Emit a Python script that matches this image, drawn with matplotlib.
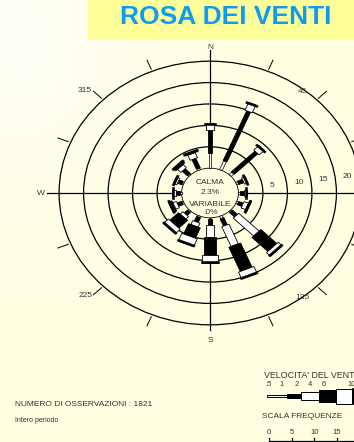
import numpy as np
import matplotlib
matplotlib.use("Agg")
import matplotlib.pyplot as plt
from matplotlib.patches import Polygon, Circle, Rectangle

plt.rcParams['font.family'] = ['Liberation Sans', 'DejaVu Sans']

# ── data ──────────────────────────────────────────────────────────────────────
directions = np.arange(0, 360, 22.5)          # N, NNE, ... NNW (deg)
# frequency (%) per speed class: .5-1, 1-2, 2-4, 4-6, 6-10 m/s
freq = np.array([
    [3.5, 5.4, 1.7, 0.0, 0.0],   # N
    [2.2, 12.6, 2.0, 0.0, 0.0],  # NNE
    [0.8, 6.8, 1.5, 0.0, 0.0],   # NE
    [0.4, 1.1, 0.8, 0.0, 0.0],   # ENE
    [0.3, 0.8, 0.7, 0.0, 0.0],   # E
    [0.4, 1.0, 1.0, 0.4, 0.0],   # ESE
    [0.3, 1.4, 5.9, 4.6, 1.2],   # SE
    [0.6, 1.8, 5.0, 6.1, 1.8],   # SSE
    [0.2, 1.5, 2.8, 4.2, 1.9],   # S
    [0.3, 1.2, 1.0, 2.6, 2.0],   # SSW
    [0.3, 0.9, 0.8, 2.5, 1.5],   # SW
    [0.3, 1.0, 0.8, 0.8, 0.0],   # WSW
    [0.3, 0.9, 0.8, 0.0, 0.0],   # W
    [0.3, 0.9, 0.8, 0.0, 0.0],   # WNW
    [0.3, 1.5, 1.0, 0.8, 0.0],   # NW
    [0.4, 2.4, 1.3, 0.5, 0.0],   # NNW
])
speed_labels = ['.5', '1', '2', '4', '6', '10']
ring_vals = [5, 10, 15, 20, 25]
ring_labels = ['5', '10', '15', '20']
scale_vals = [0, 5, 10, 15]
calm_pct = 2.3
variable_pct = 0.0
n_obs = 1821

# ── style ─────────────────────────────────────────────────────────────────────
BG = '#fffee2'
TXT = '#333333'
R0 = 5.8                                   # radius of the calm circle (%)
seg_w = [0.6, 0.85, 1.6, 2.6, 3.4]         # bar width per speed class
cap_w = [1.6, 2.0, 2.6, 3.2, 3.8]          # end cap width
seg_fill = ['white', 'black', 'white', 'black', 'white']
W, H = 354, 442
CX, CY = 210, 193                          # rose centre, px
SX, SY = 4.9, 4.28                         # px per % unit (x, y)

fig = plt.figure(figsize=(W / 100, H / 100), dpi=100)
fig.patch.set_facecolor(BG)

# soft light patch in the upper left of the page
axbg = fig.add_axes([0, 0, 1, 1], zorder=0)
gx, gy = np.meshgrid(np.linspace(0, 1, 120), np.linspace(0, 1, 150))
glow = np.exp(-((gx - 0.05) ** 2 + (gy - 0.08) ** 2) / 0.15)
img = np.ones((150, 120, 3))
img[..., 1] = 0.997
img[..., 2] = 0.88 + 0.08 * glow
axbg.imshow(img, aspect='auto', extent=[0, 1, 1, 0])
axbg.set_xlim(0, 1); axbg.set_ylim(1, 0)
axbg.axis('off')

# title band
fig.patches.append(Rectangle((88 / W, 1 - 40 / H), (W - 88) / W, 40 / H,
                             transform=fig.transFigure, facecolor='#ffff99',
                             edgecolor='none', zorder=1))
fig.text(226 / W, 1 - 17 / H, 'ROSA DEI VENTI', ha='center', va='center',
         fontsize=19, fontweight='bold', color='#0f9bf2', zorder=2)

# ── rose axes (1 data unit = 1 %) ─────────────────────────────────────────────
ax = fig.add_axes([0, 0, 1, 1], zorder=2)
ax.set_xlim(-CX / SX, (W - CX) / SX)
ax.set_ylim(-(H - CY) / SY, CY / SY)
ax.axis('off')
ax.patch.set_alpha(0)

for rv in ring_vals:
    ax.add_patch(Circle((0, 0), R0 + rv, fill=False, lw=0.9, ec='black', zorder=2))
ax.add_patch(Circle((0, 0), R0, fill=False, lw=0.6, ec='black', zorder=2))


def ray(b, r):
    t = np.radians(b)
    return np.array([r * np.sin(t), r * np.cos(t)])


def perp(b):
    t = np.radians(b)
    return np.array([np.cos(t), -np.sin(t)])


# axis lines N, S, W, E
for b, r1 in [(0, 33.3), (180, 32.0), (270, 33.3), (90, 40)]:
    p0, p1 = ray(b, R0), ray(b, r1)
    ax.plot([p0[0], p1[0]], [p0[1], p1[1]], color='black', lw=0.9, zorder=2)

# short ticks on the other 22.5 deg directions
for b in directions:
    if b % 90 == 0:
        continue
    p0, p1 = ray(b, 31.3), ray(b, 33.6)
    ax.plot([p0[0], p1[0]], [p0[1], p1[1]], color='black', lw=0.7, zorder=2)

ax.text(*ray(0, 33.9), 'N', ha='center', va='center', fontsize=6, color=TXT)
ax.text(*ray(180, 34.5), 'S', ha='center', va='center', fontsize=6, color=TXT)
ax.text(*ray(270, 34.5), 'W', ha='center', va='center', fontsize=6, color=TXT)
for b in [225, 315]:
    p = ray(b, 34.0)
    ax.text(p[0], p[1], str(b), ha='right', va='center', fontsize=6, color=TXT)
# 45 and 135 sit left of their ticks, over the outer ring
ax.text(19.9, 23.6, '45', ha='right', va='center', fontsize=6, color=TXT)
ax.text(20.4, -24.3, '135', ha='right', va='center', fontsize=6, color=TXT)

for rv, lab in zip(ring_vals, ring_labels):
    p = ray(82, R0 + rv + 1.5)
    ax.text(p[0], p[1], lab, ha='left', va='center', fontsize=6, color=TXT)

# stacked bars: one polygon per speed class, widening outwards
for b, row in zip(directions, freq):
    d, n = ray(b, 1.0), perp(b)
    r = R0
    last = 0
    for k, f in enumerate(row):
        if f <= 0:
            continue
        h = seg_w[k] / 2
        pts = [r * d + h * n, (r + f) * d + h * n, (r + f) * d - h * n, r * d - h * n]
        ax.add_patch(Polygon(pts, closed=True, fc=seg_fill[k], ec='black',
                             lw=0.6 if k else 0.5, zorder=3 + k * 0.01))
        r += f
        last = k
    h = cap_w[last] / 2
    pts = [(r - 0.45) * d + h * n, r * d + h * n, r * d - h * n, (r - 0.45) * d - h * n]
    ax.add_patch(Polygon(pts, closed=True, fc='black', ec='black', lw=0.4, zorder=4))

# calm / variable text inside the centre
ax.text(0, (CY - 182) / SY, 'CALMA', ha='center', va='center', fontsize=6, color=TXT, zorder=5)
ax.text(0, (CY - 192) / SY, f'{calm_pct:.1f}%', ha='center', va='center', fontsize=6, color=TXT, zorder=5)
ax.text(0, (CY - 204) / SY, 'VARIABILE', ha='center', va='center', fontsize=6, color=TXT, zorder=5)
ax.text(0, (CY - 213) / SY, f'{variable_pct:.1f}%'.lstrip('0'), ha='center', va='center',
        fontsize=6, color=TXT, zorder=5)

# ── speed legend ──────────────────────────────────────────────────────────────
fig.text(264 / W, 1 - 375 / H, "VELOCITA' DEL VENTO", ha='left', va='center',
         fontsize=6.4, color=TXT)
axl = fig.add_axes([267 / W, 1 - 404 / H, 85 / W, 16 / H], zorder=3)
axl.set_xlim(267, 352); axl.set_ylim(-8, 8)
axl.axis('off'); axl.patch.set_alpha(0)
leg_edges = [267, 287, 301, 319, 336, 352]
leg_lab_x = [268, 282, 297, 310, 324, 352]
leg_w = [2.8, 4.0, 8.0, 12.0, 15.0]
for k in range(5):
    axl.add_patch(Rectangle((leg_edges[k], -leg_w[k] / 2), leg_edges[k + 1] - leg_edges[k],
                            leg_w[k], fc=seg_fill[k], ec='black', lw=0.7, clip_on=False))
axl.add_patch(Rectangle((352, -leg_w[4] / 2 - 0.5), 3, leg_w[4] + 1, fc='black',
                        ec='black', lw=0.5, clip_on=False))
for xl, lab in zip(leg_lab_x, speed_labels):
    axl.text(xl, 11, lab, ha='center', va='center', fontsize=5.5, color=TXT, clip_on=False)

# ── frequency scale ───────────────────────────────────────────────────────────
fig.text(262 / W, 1 - 417 / H, 'SCALA FREQUENZE', ha='left', va='center',
         fontsize=6, color=TXT)
axs = fig.add_axes([269 / W, 0, (W - 269) / W, 14 / H], zorder=3)
axs.set_xlim(0, (W - 269) / 4.53); axs.set_ylim(0, 14)
axs.axis('off'); axs.patch.set_alpha(0)
axs.plot([0, 25], [1.5, 1.5], color='black', lw=0.9, clip_on=False)
for v in scale_vals:
    axs.plot([v, v], [1.5, 4.5], color='black', lw=0.9)
    axs.text(v, 9, str(v), ha='center', va='center', fontsize=5.5, color=TXT)

# ── footer ────────────────────────────────────────────────────────────────────
fig.text(15 / W, 1 - 405 / H, f'NUMERO DI OSSERVAZIONI : {n_obs}', ha='left',
         va='center', fontsize=6, color=TXT)
fig.text(15 / W, 1 - 421 / H, 'Intero periodo', ha='left', va='center',
         fontsize=5, color=TXT)

fig.savefig('out.png', dpi=100, facecolor=fig.get_facecolor())
